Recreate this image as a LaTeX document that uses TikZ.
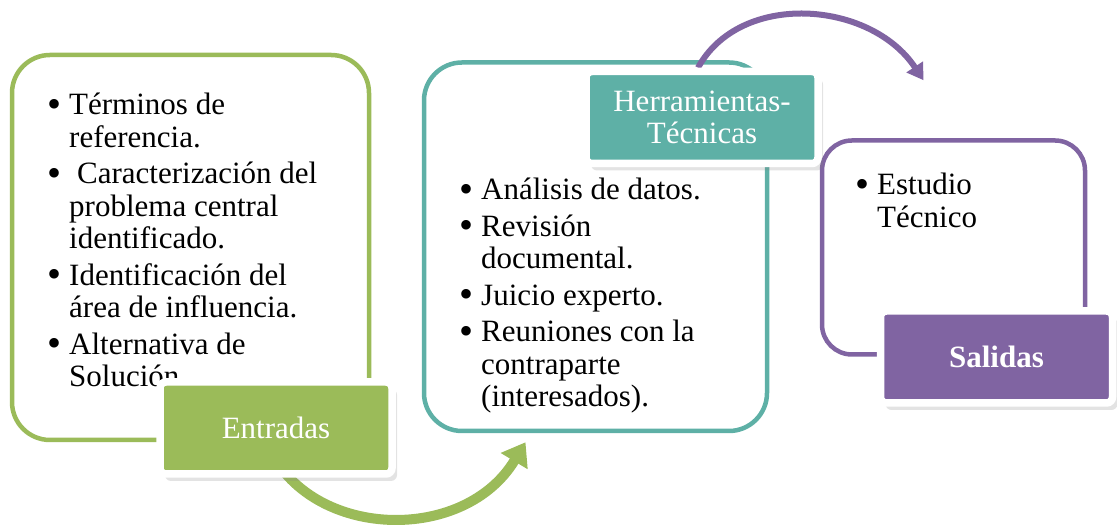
\documentclass[tikz,border=0pt]{standalone}
\usepackage{fontspec}
\setmainfont{Liberation Serif}
\usetikzlibrary{arrows.meta,shadows}
\definecolor{entgreen}{HTML}{9BBB59}
\definecolor{herteal}{HTML}{5EB0A6}
\definecolor{salpurple}{HTML}{8064A2}
\newcommand{\itm}{\makebox[19pt][l]{\hspace{-3pt}\raisebox{-2.5pt}{\fontsize{40}{40}\selectfont\textbullet}}}
\newcommand{\sng}{\hspace*{19pt}}
\pgfdeclarelayer{back}
\pgfdeclarelayer{mid}
\pgfsetlayers{back,mid,main}

\begin{document}
\begin{tikzpicture}[x=1pt,y=1pt,font=\fontsize{31}{32.5}\selectfont,
  bigbox/.style={draw=#1,line width=4.5pt,rounded corners=38pt},
  tab/.style={fill=#1,draw=white,line width=7.5pt,rounded corners=6pt,text=white,
    minimum width=232pt,minimum height=92pt,align=center,
    drop shadow={opacity=.22,shadow xshift=5pt,shadow yshift=-7pt}},
  lst/.style={anchor=base west,inner sep=0pt}]
\useasboundingbox (0,0) rectangle (1117,526);
\begin{pgfonlayer}{back}
\node[bigbox=entgreen,minimum width=357pt,minimum height=385pt] (entbox) at (190.5,278.5) {};
\node[bigbox=herteal,minimum width=343pt,minimum height=368.5pt] (herbox) at (595.5,279.25) {};
\node[bigbox=salpurple,rounded corners=30pt,minimum width=263pt,minimum height=214pt] (salbox) at (953.5,278.5) {};
\end{pgfonlayer}
\node[lst] (entlist) at (50,411) {\begin{tabular}[t]{@{}l@{}}
\itm Términos de\\
\sng referencia.\\[4pt]
\itm\hspace{8pt}Caracterización del\\
\sng problema central\\
\sng identificado.\\[4pt]
\itm Identificación del\\
\sng área de influencia.\\[4pt]
\itm Alternativa de\\
\sng Solución.
\end{tabular}};
\node[lst] (herlist) at (462,326) {\begin{tabular}[t]{@{}l@{}}
\itm Análisis de datos.\\[4pt]
\itm Revisión\\
\sng documental.\\[4pt]
\itm Juicio experto.\\[4pt]
\itm Reuniones con la\\
\sng contraparte\\
\sng (interesados).
\end{tabular}};
\node[lst] (sallist) at (858,331) {\begin{tabular}[t]{@{}l@{}}
\itm Estudio\\
\sng Técnico
\end{tabular}};
\node[tab=entgreen] (enttab) at (276,98) {Entradas};
\node[tab=herteal] (hertab) at (702,408.5) {Herramientas-\\Técnicas};
\node[tab=salpurple,font=\fontsize{31}{32.5}\selectfont\bfseries] (saltab) at (996.5,169) {Salidas};
\begin{pgfonlayer}{mid}
\draw[line width=10pt,entgreen,-{Triangle[length=22pt,width=30pt]}] ([xshift=-14pt]enttab.center) .. controls +(28,-110) and +(-65,-108) .. ([xshift=-70pt,yshift=-9pt]herbox.south);
\draw[line width=6pt,salpurple,-{Triangle[length=16pt,width=19pt]}] ([xshift=-4pt]hertab.north) .. controls +(42,77) and +(-53,80) .. ([xshift=-30pt,yshift=58pt]salbox.north);
\end{pgfonlayer}
\end{tikzpicture}
\end{document}
